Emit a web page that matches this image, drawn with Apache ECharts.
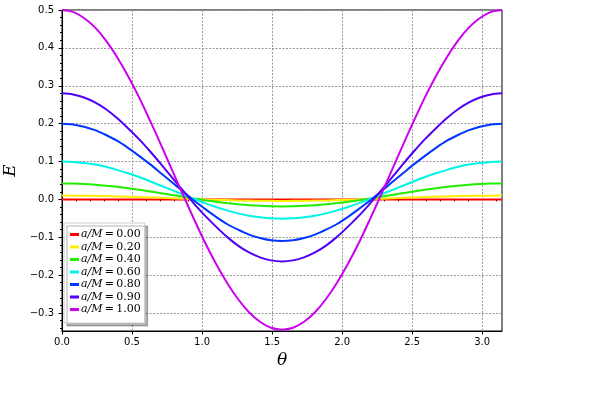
<!DOCTYPE html>
<html lang="en">
<head>
    <meta charset="UTF-8">
    <title>E vs theta</title>
    <script src="https://cdn.jsdelivr.net/npm/echarts@6/dist/echarts.min.js"></script>
    <style>html,body{margin:0;padding:0;background:#fff;}</style>
</head>
<body>
<div id="container" style="width:603px;height:413px"></div>
<script type="text/javascript">
    // theta samples (k*pi/40)
    var theta = [0, 0.0785, 0.1571, 0.2356, 0.3142, 0.3927, 0.4712, 0.5498, 0.6283, 0.7069,
        0.7854, 0.8639, 0.9425, 1.0210, 1.0996, 1.1781, 1.2566, 1.3352, 1.4137, 1.4923,
        1.5708, 1.6493, 1.7279, 1.8064, 1.8850, 1.9635, 2.0420, 2.1206, 2.1991, 2.2777,
        2.3562, 2.4347, 2.5133, 2.5918, 2.6704, 2.7489, 2.8274, 2.9060, 2.9845, 3.0631, 3.1416];

    var spins = ['0.00', '0.20', '0.40', '0.60', '0.80', '0.90', '1.00'];
    var colors = ['#ff0000', '#ffee00', '#22ee00', '#00f5e6', '#0036ff', '#5200f5', '#cc00ee'];

    var e000 = [0, 0, 0, 0, 0, 0, 0, 0, 0, 0, 0, 0, 0, 0, 0, 0, 0, 0, 0, 0, 0,
        0, 0, 0, 0, 0, 0, 0, 0, 0, 0, 0, 0, 0, 0, 0, 0, 0, 0, 0, 0];
    var e020 = [0.0100, 0.0099, 0.0097, 0.0092, 0.0087, 0.0079, 0.0071, 0.0062, 0.0052, 0.0041,
        0.0030, 0.0019, 0.0008, -0.0002, -0.0011, -0.0019, -0.0027, -0.0032, -0.0037, -0.0039,
        -0.0040, -0.0039, -0.0037, -0.0032, -0.0027, -0.0019, -0.0011, -0.0002, 0.0008, 0.0019,
        0.0030, 0.0041, 0.0052, 0.0062, 0.0071, 0.0079, 0.0087, 0.0092, 0.0097, 0.0099, 0.0100];
    var e040 = [0.0420, 0.0416, 0.0405, 0.0387, 0.0362, 0.0331, 0.0295, 0.0255, 0.0211, 0.0164,
        0.0117, 0.0070, 0.0023, -0.0021, -0.0061, -0.0097, -0.0128, -0.0153, -0.0171, -0.0182,
        -0.0186, -0.0182, -0.0171, -0.0153, -0.0128, -0.0097, -0.0061, -0.0021, 0.0023, 0.0070,
        0.0117, 0.0164, 0.0211, 0.0255, 0.0295, 0.0331, 0.0362, 0.0387, 0.0405, 0.0416, 0.0420];
    var e060 = [0.100, 0.099, 0.096, 0.092, 0.086, 0.078, 0.069, 0.059, 0.048, 0.036,
        0.0245, 0.013, 0.001, -0.010, -0.020, -0.029, -0.037, -0.043, -0.047, -0.050,
        -0.051, -0.050, -0.047, -0.043, -0.037, -0.029, -0.020, -0.010, 0.001, 0.013,
        0.0245, 0.036, 0.048, 0.059, 0.069, 0.078, 0.086, 0.092, 0.096, 0.099, 0.100];
    var e080 = [0.200, 0.198, 0.192, 0.183, 0.170, 0.155, 0.136, 0.115, 0.093, 0.069,
        0.045, 0.021, -0.003, -0.025, -0.046, -0.065, -0.080, -0.093, -0.102, -0.108,
        -0.110, -0.108, -0.102, -0.093, -0.080, -0.065, -0.046, -0.025, -0.003, 0.021,
        0.045, 0.069, 0.093, 0.115, 0.136, 0.155, 0.170, 0.183, 0.192, 0.198, 0.200];
    var e090 = [0.280, 0.277, 0.269, 0.256, 0.238, 0.215, 0.188, 0.159, 0.127, 0.093,
        0.058, 0.023, -0.011, -0.043, -0.072, -0.099, -0.122, -0.140, -0.153, -0.161,
        -0.164, -0.161, -0.153, -0.140, -0.122, -0.099, -0.072, -0.043, -0.011, 0.023,
        0.058, 0.093, 0.127, 0.159, 0.188, 0.215, 0.238, 0.256, 0.269, 0.277, 0.280];
    var e100 = [0.500, 0.495, 0.479, 0.454, 0.419, 0.376, 0.326, 0.270, 0.208, 0.144,
        0.078, 0.012, -0.052, -0.114, -0.170, -0.220, -0.263, -0.298, -0.323, -0.339,
        -0.344, -0.339, -0.323, -0.298, -0.263, -0.220, -0.170, -0.114, -0.052, 0.012,
        0.078, 0.144, 0.208, 0.270, 0.326, 0.376, 0.419, 0.454, 0.479, 0.495, 0.500];
    var curves = [e000, e020, e040, e060, e080, e090, e100];

    var xTicks = [0, 0.5, 1.0, 1.5, 2.0, 2.5, 3.0];
    var yTicks = [-0.3, -0.2, -0.1, 0, 0.1, 0.2, 0.3, 0.4, 0.5];

    var xMinor = [], yMinor = [];
    for (var i = 1; i <= 31; i++) { if (i % 5) xMinor.push(i / 10); }
    for (var j = -17; j <= 25; j++) { if (j % 5) yMinor.push(j / 50); }

    function fmt(v) { return v.toFixed(1).replace('-', '\u2212'); }

    var serif = '"DejaVu Serif", serif';
    var sans = '"DejaVu Sans", sans-serif';

    var series = [];
    for (var s = 0; s < curves.length; s++) {
        var pts = [];
        for (var k = 0; k < theta.length; k++) pts.push([theta[k], curves[s][k]]);
        series.push({
            name: 'a/M=' + spins[s],
            type: 'line',
            data: pts,
            smooth: 0.3,
            showSymbol: false,
            symbol: 'none',
            lineStyle: { width: 2, color: colors[s] },
            itemStyle: { color: colors[s] },
            xAxisIndex: 0,
            yAxisIndex: 0,
            z: 3 + s
        });
    }

    var dom = document.getElementById('container');
    var myChart = echarts.init(dom);
    var option = {
        animation: false,
        grid: {
            left: 62, right: 101, top: 10, bottom: 82,
            outerBoundsMode: 'none',
            show: true, borderColor: '#000', borderWidth: 1, backgroundColor: 'transparent'
        },
        legend: {
            orient: 'vertical',
            left: 64, top: 223,
            padding: [6, 4, 8, 6],
            itemGap: 1.5,
            itemWidth: 9, itemHeight: 3,
            icon: 'rect',
            backgroundColor: '#fff',
            borderColor: '#cccccc', borderWidth: 1,
            shadowColor: 'rgba(0,0,0,0.3)', shadowBlur: 0, shadowOffsetX: 3, shadowOffsetY: 3,
            textStyle: {
                padding: [0, 0, 0, -3],
                rich: {
                    i: { fontFamily: serif, fontStyle: 'italic', fontSize: 11, color: '#000', lineHeight: 11 },
                    r: { fontFamily: serif, fontSize: 11, color: '#000', lineHeight: 11 }
                }
            },
            formatter: function (name) {
                return '{i|a/M}{r|\u2009=\u2009' + name.split('=')[1] + '}';
            },
            data: series.map(function (x) { return x.name; })
        },
        xAxis: [{
            type: 'value', min: 0, max: 3.14159,
            name: 'θ', nameLocation: 'middle', nameGap: 20,
            nameTextStyle: { fontFamily: serif, fontStyle: 'italic', fontSize: 17, color: '#000' },
            axisLine: { onZero: false, lineStyle: { color: '#000', width: 1 } },
            axisTick: { customValues: xTicks, length: 3.5, lineStyle: { color: '#000' } },
            axisLabel: { customValues: xTicks, formatter: fmt, color: '#000', fontFamily: sans, fontSize: 10, margin: 6 },
            splitLine: { show: true, lineStyle: { color: '#999', type: [2, 1.5], width: 1 } }
        }, {
            type: 'value', min: 0, max: 3.14159, position: 'bottom',
            axisLine: { show: false },
            axisTick: { customValues: xMinor, length: 2, lineStyle: { color: '#000' } },
            axisLabel: { show: false },
            splitLine: { show: false }
        }],
        yAxis: [{
            type: 'value', min: -0.3475, max: 0.5,
            name: 'E', nameLocation: 'middle', nameGap: 40, nameRotate: 90,
            nameTextStyle: { fontFamily: serif, fontStyle: 'italic', fontSize: 17, color: '#000' },
            axisLine: { onZero: false, lineStyle: { color: '#000', width: 1 } },
            axisTick: { customValues: yTicks, length: 3.5, lineStyle: { color: '#000' } },
            axisLabel: { customValues: yTicks, formatter: fmt, color: '#000', fontFamily: sans, fontSize: 10, margin: 8 },
            splitLine: { show: true, lineStyle: { color: '#999', type: [2, 1.5], width: 1 } }
        }, {
            type: 'value', min: -0.3475, max: 0.5, position: 'left',
            axisLine: { show: false },
            axisTick: { customValues: yMinor, length: 2, lineStyle: { color: '#000' } },
            axisLabel: { show: false },
            splitLine: { show: false }
        }],
        series: series
    };
    myChart.setOption(option, true);
</script>
</body>
</html>
